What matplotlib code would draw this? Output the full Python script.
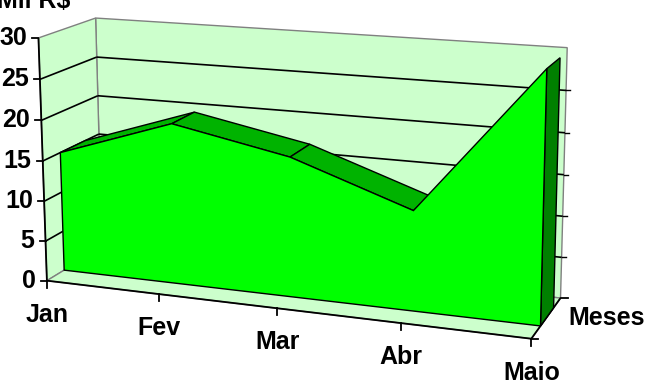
"""3-D area chart (Excel style): monthly values in Mil R$, Jan..Maio."""
import numpy as np
import matplotlib
matplotlib.use("Agg")
import matplotlib.pyplot as plt
from matplotlib.patches import Polygon

plt.rcParams["font.family"] = ["Liberation Sans", "DejaVu Sans"]

# data
MONTHS = ["Jan", "Fev", "Mar", "Abr", "Maio"]
VALUES = [15, 19.8, 17, 12, 29.5]
Y_TICKS = [0, 5, 10, 15, 20, 25, 30]
SERIES_NAME = "Meses"
UNIT_LABEL = "Mil R$"

# box geometry: world (x = category index, y = value, z = depth 0 front .. 1 back)
X_MAX, Y_MAX = 4.0, 30.0
Z_FRONT, Z_BACK = 0.3, 0.75         # depth band the series occupies
# where the box corners/ticks sit in the picture (pixels), used to fit the camera
CAM_WORLD = [(0, 0, 0), (0, 30, 0), (0, 20, 0), (0, 15, 0),
             (0, 30, 1), (0, 25, 1), (0, 20, 1),
             (4, 0, 0), (4, 0, 1), (4, 30, 1), (4, 25, 1), (4, 20, 1),
             (4, 15, 1), (4, 10, 1), (4, 5, 1), (1, 0, 0), (3, 0, 0)]
CAM_PIX = [(47, 281), (38, 38), (42, 120), (43, 161),
           (96, 17), (97, 57), (97, 97),
           (532, 339), (561, 297), (567, 48), (566, 90), (565, 133),
           (564, 175), (562.5, 217), (561.5, 257), (159, 294), (400, 323)]

WALL = "#ccffcc"
EDGE = "#808080"
FRONT = "#00ff00"
TOP = "#00b300"
SIDE = "#008000"
FS = 18


def fit_camera(world, pix):
    rows = []
    for (X, Y, Z), (u, v) in zip(world, pix):
        X, Y, u, v = X / X_MAX, Y / Y_MAX, u / 100.0, v / 100.0
        rows.append([X, Y, Z, 1, 0, 0, 0, 0, -u * X, -u * Y, -u * Z, -u])
        rows.append([0, 0, 0, 0, X, Y, Z, 1, -v * X, -v * Y, -v * Z, -v])
    _, _, vt = np.linalg.svd(np.array(rows, dtype=float))
    return vt[-1].reshape(3, 4)


P = fit_camera(CAM_WORLD, CAM_PIX)


def proj(x, y, z):
    h = P @ np.array([x / X_MAX, y / Y_MAX, z, 1.0])
    return h[0] / h[2] * 100.0, h[1] / h[2] * 100.0


def poly(ax, pts3d, fc, ec="black", lw=1.0, z=1):
    pts = [proj(*p) for p in pts3d]
    ax.add_patch(Polygon(pts, closed=True, fc=fc, ec=ec, lw=lw, zorder=z))
    return pts


def line(ax, p0, p1, color="black", lw=1.2, z=2):
    a, b = proj(*p0), proj(*p1)
    ax.plot([a[0], b[0]], [a[1], b[1]], color=color, lw=lw, zorder=z,
            solid_capstyle="butt")


def signed_area(pts):
    s = 0.0
    for i in range(len(pts)):
        x0, y0 = pts[i]
        x1, y1 = pts[(i + 1) % len(pts)]
        s += x0 * y1 - x1 * y0
    return s


fig = plt.figure(figsize=(6.47, 3.86), dpi=100)
ax = fig.add_axes([0, 0, 1, 1])
ax.set_xlim(0, 647)
ax.set_ylim(386, 0)
ax.axis("off")

# walls and floor
poly(ax, [(0, 0, 1), (X_MAX, 0, 1), (X_MAX, Y_MAX, 1), (0, Y_MAX, 1)], WALL, EDGE)
poly(ax, [(0, 0, 0), (0, 0, 1), (0, Y_MAX, 1), (0, Y_MAX, 0)], WALL, EDGE)
poly(ax, [(0, 0, 0), (X_MAX, 0, 0), (X_MAX, 0, 1), (0, 0, 1)], WALL, EDGE)

# gridlines on left and back walls
for t in Y_TICKS[1:-1]:
    line(ax, (0, t, 0), (0, t, 1))
    line(ax, (0, t, 1), (X_MAX, t, 1))
    # little stub past the right edge of the back wall
    a = proj(X_MAX, t, 1)
    ax.plot([a[0], a[0] + 4], [a[1], a[1]], color="black", lw=1.0, zorder=2)

# axes
line(ax, (0, 0, 0), (0, Y_MAX, 0), lw=1.3, z=3)
line(ax, (0, 0, 0), (X_MAX, 0, 0), lw=1.3, z=3)
line(ax, (X_MAX, 0, 0), (X_MAX, 0, 1), lw=1.3, z=3)

# series: top strips (only the ones facing the viewer), right side, front face
for i in range(len(VALUES) - 1):
    quad = [(i, VALUES[i], Z_FRONT), (i + 1, VALUES[i + 1], Z_FRONT),
            (i + 1, VALUES[i + 1], Z_BACK), (i, VALUES[i], Z_BACK)]
    if signed_area([proj(*p) for p in quad]) < 0:
        poly(ax, quad, TOP, z=4)
last = len(VALUES) - 1
poly(ax, [(last, 0, Z_FRONT), (last, VALUES[-1], Z_FRONT),
          (last, VALUES[-1], Z_BACK), (last, 0, Z_BACK)], SIDE, z=4)
front = [(i, v, Z_FRONT) for i, v in enumerate(VALUES)]
front += [(last, 0, Z_FRONT), (0, 0, Z_FRONT)]
poly(ax, front, FRONT, z=5)

# value ticks and labels
for t in Y_TICKS:
    x, y = proj(0, t, 0)
    ax.plot([x - 6, x], [y, y], color="black", lw=1.3, zorder=3)
    ax.text(x - 11, y, str(t), ha="right", va="center", fontsize=FS,
            fontweight="bold")

# category ticks and labels
for i, m in enumerate(MONTHS):
    x, y = proj(i, 0, 0)
    ax.plot([x, x], [y, y + 7], color="black", lw=1.3, zorder=3)
    ax.text(x, y + 34, m, ha="center", va="center", fontsize=FS,
            fontweight="bold")

# series axis ticks and label
for zz in (0, 1):
    x, y = proj(X_MAX, 0, zz)
    ax.plot([x, x + 7], [y, y], color="black", lw=1.3, zorder=3)
mx, my = proj(X_MAX, 0, 0.5)
ax.text(mx + 22, my, SERIES_NAME, ha="left", va="center", fontsize=FS,
        fontweight="bold")

ax.text(-3, 8, UNIT_LABEL, ha="left", va="baseline", fontsize=FS,
        fontweight="bold")

fig.savefig("out.png", dpi=100)
